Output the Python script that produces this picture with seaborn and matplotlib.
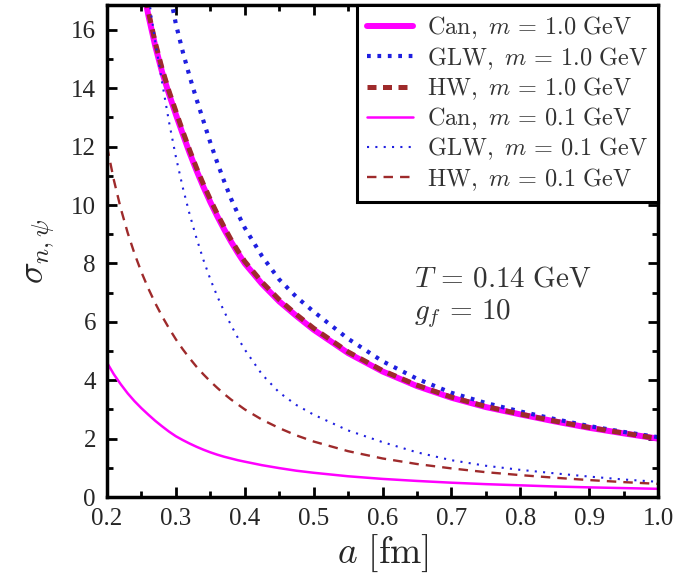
import numpy as np
import pandas as pd
import matplotlib
matplotlib.use("Agg")
import matplotlib.pyplot as plt
import seaborn as sns
from matplotlib.ticker import MultipleLocator, FormatStrFormatter

# ---- data ----
a_fm = [0.20, 0.21, 0.22, 0.23, 0.24, 0.25, 0.26, 0.27, 0.28, 0.29, 0.30,
        0.31, 0.32, 0.33, 0.34, 0.35, 0.36, 0.37, 0.38, 0.39, 0.40,
        0.425, 0.45, 0.475, 0.50, 0.55, 0.60, 0.65, 0.70, 0.75, 0.80,
        0.85, 0.90, 0.95, 1.00]

can_m10 = [27.5, 24.8, 22.5, 20.7, 19.2, 17.75, 16.5, 15.45, 14.55, 13.8, 13.1,
           12.43, 11.78, 11.18, 10.62, 10.1, 9.62, 9.17, 8.75, 8.36, 8.0,
           7.3, 6.7, 6.2, 5.73, 4.93, 4.30, 3.80, 3.40, 3.08, 2.83,
           2.59, 2.37, 2.18, 2.00]
glw_m10 = [45.0, 40.0, 35.5, 31.5, 28.0, 25.0, 22.5, 20.5, 18.8, 17.4, 16.2,
           15.25, 14.4, 13.62, 12.88, 12.14, 11.46, 10.82, 10.22, 9.70, 9.22,
           8.25, 7.45, 6.85, 6.35, 5.42, 4.65, 4.05, 3.57, 3.22, 2.93,
           2.67, 2.43, 2.23, 2.05]
hw_m10 = [27.7, 25.0, 22.7, 20.9, 19.35, 17.9, 16.63, 15.57, 14.67, 13.9, 13.21,
          12.53, 11.88, 11.27, 10.71, 10.19, 9.7, 9.25, 8.82, 8.43, 8.07,
          7.36, 6.76, 6.25, 5.78, 4.97, 4.33, 3.83, 3.42, 3.10, 2.84,
          2.60, 2.38, 2.19, 2.00]
can_m01 = [4.60, 4.20, 3.86, 3.55, 3.28, 3.04, 2.82, 2.61, 2.42, 2.24, 2.08,
           1.95, 1.83, 1.72, 1.62, 1.53, 1.45, 1.38, 1.32, 1.26, 1.21,
           1.09, 0.99, 0.90, 0.83, 0.71, 0.62, 0.55, 0.49, 0.44, 0.40,
           0.36, 0.33, 0.305, 0.28]
glw_m01 = [33.0, 29.2, 26.0, 23.3, 21.0, 19.0, 17.2, 15.6, 14.2, 12.85, 11.65,
           10.6, 9.68, 8.86, 8.12, 7.46, 6.88, 6.36, 5.89, 5.45, 5.05,
           4.2, 3.58, 3.15, 2.82, 2.28, 1.88, 1.53, 1.26, 1.07, 0.93,
           0.81, 0.70, 0.60, 0.52]
hw_m01 = [12.0, 10.85, 9.88, 9.05, 8.33, 7.7, 7.14, 6.64, 6.19, 5.78, 5.40,
          5.06, 4.75, 4.46, 4.2, 3.96, 3.74, 3.53, 3.34, 3.17, 3.0,
          2.65, 2.36, 2.11, 1.90, 1.57, 1.32, 1.13, 0.98, 0.85, 0.75,
          0.66, 0.58, 0.51, 0.45]

labels = [r"$\mathrm{Can},\ m\,=\,1.0\ \mathrm{GeV}$",
          r"$\mathrm{GLW},\ m\,=\,1.0\ \mathrm{GeV}$",
          r"$\mathrm{HW},\ m\,=\,1.0\ \mathrm{GeV}$",
          r"$\mathrm{Can},\ m\,=\,0.1\ \mathrm{GeV}$",
          r"$\mathrm{GLW},\ m\,=\,0.1\ \mathrm{GeV}$",
          r"$\mathrm{HW},\ m\,=\,0.1\ \mathrm{GeV}$"]
x_ticks = [0.2, 0.3, 0.4, 0.5, 0.6, 0.7, 0.8, 0.9, 1.0]
y_ticks = [0, 2, 4, 6, 8, 10, 12, 14, 16]

# ---- style ----
sns.set_theme(style="ticks")
plt.rcParams["font.family"] = ["Liberation Serif", "DejaVu Serif"]
plt.rcParams["mathtext.fontset"] = "cm"

MAG = "#ff00ff"
BLU = "#1f1fe0"
RED = "#9e2a2b"

fig = plt.figure(figsize=(6.87, 5.88), dpi=100)
ax = fig.add_axes([107/687, 91/588, 551/687, 492/588])

df = pd.DataFrame({"a": a_fm})
series = [
    (can_m10, MAG, 4.3, "-"),
    (glw_m10, BLU, 3.0, (0, (0.9, 1.6))),
    (hw_m10, RED, 3.6, (0, (1.8, 1.3))),
    (can_m01, MAG, 1.8, "-"),
    (glw_m01, BLU, 1.5, (0, (1, 3))),
    (hw_m01, RED, 1.7, (0, (4, 3))),
]
for (vals, col, lw, ls), lab in zip(series, labels):
    sns.lineplot(x=df["a"], y=vals, ax=ax, color=col, linewidth=lw,
                 linestyle=ls, label=lab, sort=False)

ax.set_xlim(0.2, 1.0)
ax.set_ylim(0, 16.85)
ax.set_xticks(x_ticks)
ax.set_yticks(y_ticks)
ax.xaxis.set_major_formatter(FormatStrFormatter("%.1f"))
ax.xaxis.set_minor_locator(MultipleLocator(0.05))
ax.yaxis.set_minor_locator(MultipleLocator(1))
ax.tick_params(which="both", direction="in", top=True, right=True,
               width=2.0, color="black")
ax.tick_params(which="major", length=7, labelsize=18, pad=8)
ax.tick_params(which="minor", length=4)
for sp in ax.spines.values():
    sp.set_linewidth(2.5)
    sp.set_color("black")

ax.set_xlabel(r"$a\ [\mathrm{fm}]$", fontsize=27, labelpad=2)
ax.set_ylabel(r"$\sigma_{n,\psi}$", fontsize=26, labelpad=10)

ax.text(0.557, 0.442, r"$T\,=\,0.14\ \mathrm{GeV}$", transform=ax.transAxes,
        fontsize=21, color="#333333", va="center")
ax.text(0.557, 0.372, r"$g_f\,=\,10$", transform=ax.transAxes,
        fontsize=21, color="#333333", va="center")

leg = ax.legend(loc="upper right", bbox_to_anchor=(1.0, 1.0), borderaxespad=0,
                fontsize=17.5, frameon=True, fancybox=False, handlelength=1.9,
                labelspacing=0.15, handletextpad=0.6, borderpad=0.4)
leg.get_frame().set_edgecolor("black")
leg.get_frame().set_linewidth(2.2)
leg.get_frame().set_alpha(1)
for t in leg.get_texts():
    t.set_color("#333333")

fig.savefig("out.png", dpi=100)
